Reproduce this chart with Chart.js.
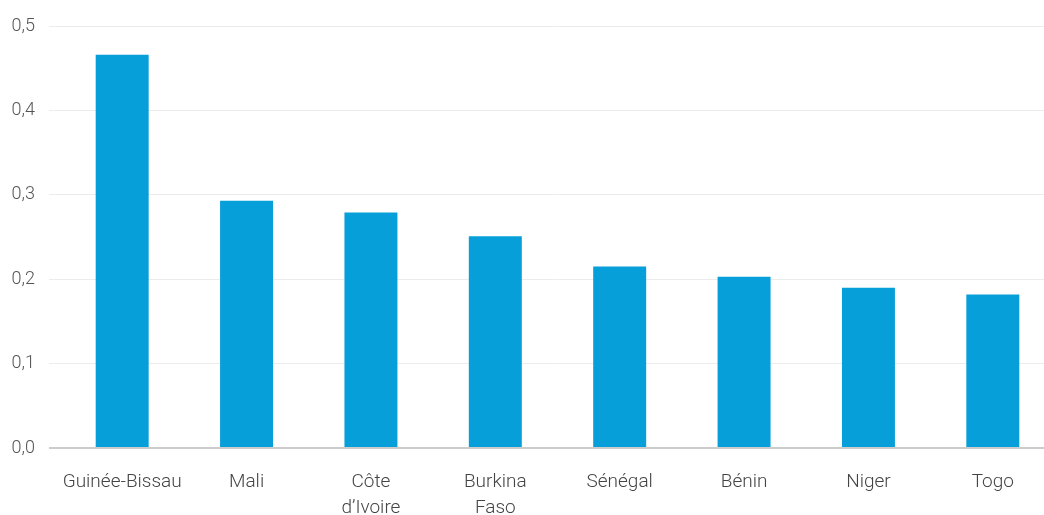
<!DOCTYPE html>
<html>
<head>
<meta charset="utf-8">
<script src="https://cdn.jsdelivr.net/npm/chart.js@4"></script>
<style>
  html, body { margin: 0; padding: 0; background: #fff; overflow: hidden; }
  #wrap { position: relative; width: 1055px; height: 515px; }
</style>
</head>
<body>
<div id="wrap"><canvas id="chart"></canvas></div>
<script>
const countries = ["Guinée-Bissau", "Mali", ["Côte", "d’Ivoire"], ["Burkina", "Faso"], "Sénégal", "Bénin", "Niger", "Togo"];
const values = [0.466, 0.293, 0.279, 0.251, 0.215, 0.203, 0.190, 0.182];
const yTicks = [0, 0.1, 0.2, 0.3, 0.4, 0.5];

const xFont = { family: "Roboto", weight: 300, size: 19, lineHeight: 1.37 };
const yFont = { family: "Roboto", weight: 300, size: 18 };

new Chart(document.getElementById("chart"), {
  type: "bar",
  data: {
    labels: countries,
    datasets: [{
      data: values,
      backgroundColor: "#079fda",
      barPercentage: 0.426,
      categoryPercentage: 1
    }]
  },
  options: {
    responsive: true,
    maintainAspectRatio: false,
    animation: false,
    layout: { padding: { top: 26, left: 0, right: 0, bottom: 0 } },
    plugins: {
      legend: { display: false },
      tooltip: { enabled: false }
    },
    scales: {
      x: {
        grid: { display: false, drawTicks: false },
        border: { display: false },
        ticks: { color: "#444", font: xFont, padding: 21, maxRotation: 0, autoSkip: false },
        afterFit: s => { s.height = 67; }
      },
      y: {
        min: 0,
        max: 0.5,
        afterBuildTicks: s => { s.ticks = yTicks.map(v => ({ value: v })); },
        border: { display: false },
        grid: {
          color: c => c.tick && c.tick.value === 0 ? "#cccccc" : "#ececec",
          lineWidth: c => c.tick && c.tick.value === 0 ? 2 : 1,
          tickLength: 11
        },
        ticks: {
          color: "#555",
          font: yFont,
          padding: 14,
          callback: v => v.toFixed(1).replace(".", ",")
        },
        afterFit: s => { s.width = 60; }
      }
    }
  }
});
</script>
</body>
</html>
